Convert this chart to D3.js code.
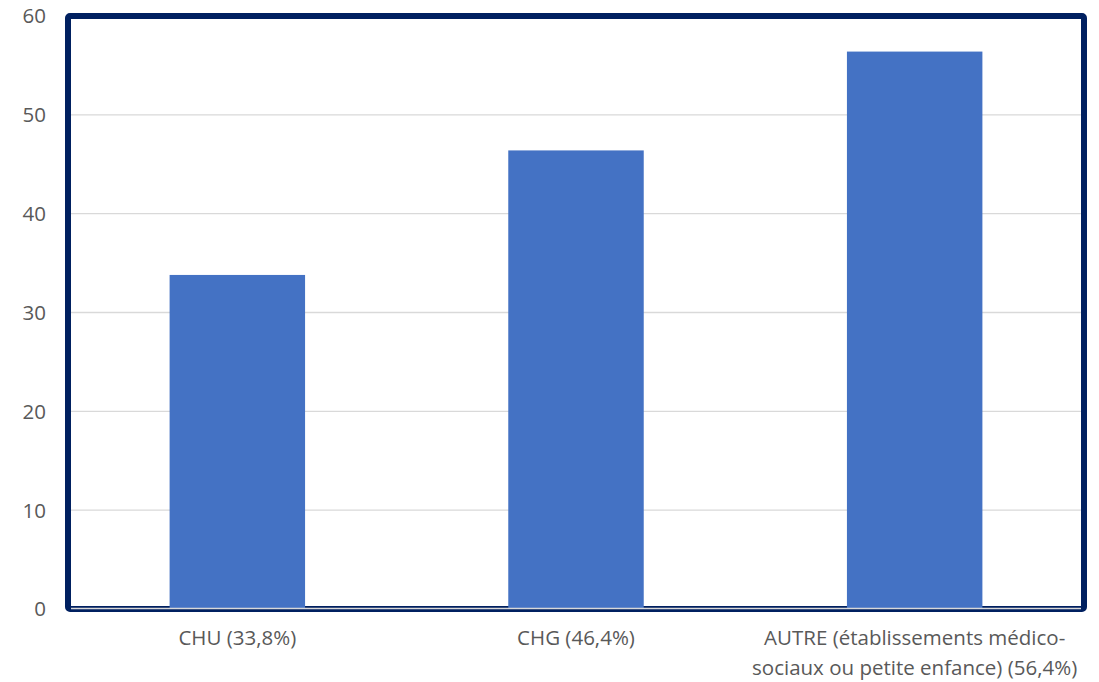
<!DOCTYPE html>
<html><head><meta charset="utf-8">
<script src="https://cdn.jsdelivr.net/npm/d3@7"></script>
<style>body{margin:0;background:#fff}svg{display:block}</style>
</head><body><svg id="c" width="1099" height="682"></svg>
<script>
const categories = ["CHU (33,8%)", "CHG (46,4%)", "AUTRE (établissements médico-|sociaux ou petite enfance) (56,4%)"];
const values = [33.8, 46.4, 56.4];
const yTicks = [0, 10, 20, 30, 40, 50, 60];

const svg = d3.select("#c");
const m = {left: 68, right: 1084, top: 16, bottom: 609};
const x = d3.scaleBand().domain(categories).range([m.left, m.right]).paddingInner(0.6).paddingOuter(0.3);
const y = d3.scaleLinear().domain([0, 60]).range([m.bottom, m.top]);
const font = "'Open Sans', 'Liberation Sans', sans-serif";
const fs = 20.5;

// gridlines
svg.append("g").selectAll("line").data(yTicks.filter(d => d > 0 && d < 60)).join("line")
  .attr("x1", m.left).attr("x2", m.right)
  .attr("y1", d => y(d)).attr("y2", d => y(d))
  .attr("stroke", "#d9d9d9").attr("stroke-width", 1.3);

// border
svg.append("rect").attr("x", m.left).attr("y", m.top)
  .attr("width", m.right - m.left).attr("height", m.bottom - m.top)
  .attr("rx", 2).attr("fill", "none").attr("stroke", "#002060").attr("stroke-width", 6);

// bars
svg.append("g").selectAll("rect").data(values).join("rect")
  .attr("x", (d, i) => x(categories[i]))
  .attr("width", x.bandwidth())
  .attr("y", d => y(d))
  .attr("height", d => y(0) - y(d) - 1)
  .attr("fill", "#4472c4");

// axis line
svg.append("line").attr("x1", m.left + 3).attr("x2", m.right - 3)
  .attr("y1", y(0) - 0.5).attr("y2", y(0) - 0.5).attr("stroke", "#d9d9d9").attr("stroke-width", 1.5);

// y labels
svg.append("g").selectAll("text").data(yTicks).join("text")
  .attr("x", 46).attr("y", d => y(d)).attr("dy", "0.36em")
  .attr("text-anchor", "end").attr("font-family", font).attr("font-size", fs)
  .attr("fill", "#595959").text(d => d);

// x labels
const xl = svg.append("g").selectAll("text").data(categories).join("text")
  .attr("x", d => x(d) + x.bandwidth() / 2).attr("y", 645)
  .attr("text-anchor", "middle").attr("font-family", font).attr("font-size", fs)
  .attr("fill", "#595959");
xl.each(function(d) {
  const lines = d.split("|");
  d3.select(this).selectAll("tspan").data(lines).join("tspan")
    .attr("x", x(d) + x.bandwidth() / 2).attr("dy", (l, i) => i ? 30 : 0).text(l => l);
});
</script></body></html>
